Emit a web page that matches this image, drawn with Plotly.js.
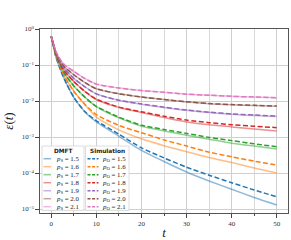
<!DOCTYPE html>
<html><head><meta charset="utf-8">
<script src="https://cdn.plot.ly/plotly-3.0.1.min.js"></script>
<style>html,body{margin:0;padding:0;background:#fff;}#chart{width:291px;height:240px;}</style>
</head><body><div id="chart"></div>
<script>
const t = [0,0.5,1,2,3,5,7.5,10,15,20,25,30,35,40,45,50];

// Simulation (dashed)
const simP15 = [0.617,0.324,0.174,0.0759,0.0380,0.0126,0.00501,0.00282,0.00120,0.000501,0.000263,0.000145,0.0000871,0.0000537,0.0000339,0.0000219];
const simP16 = [0.617,0.339,0.186,0.0871,0.0468,0.0186,0.00794,0.00417,0.00209,0.00132,0.000832,0.000562,0.000380,0.000282,0.000214,0.000166];
const simP17 = [0.617,0.347,0.200,0.0977,0.0562,0.0263,0.0126,0.00708,0.00355,0.00214,0.00162,0.00126,0.000977,0.000794,0.000646,0.000537];
const simP18 = [0.617,0.355,0.209,0.107,0.0661,0.0347,0.0182,0.0112,0.00676,0.00501,0.00380,0.00295,0.00251,0.00219,0.00200,0.00182];
const simP19 = [0.617,0.363,0.219,0.117,0.0759,0.0427,0.0245,0.0158,0.0105,0.00832,0.00676,0.00562,0.00490,0.00437,0.00407,0.00380];
const simP20 = [0.617,0.372,0.229,0.129,0.0871,0.0537,0.0324,0.0219,0.0158,0.0129,0.0110,0.00955,0.00851,0.00794,0.00759,0.00724];
const simP21 = [0.617,0.380,0.240,0.141,0.100,0.0661,0.0417,0.0295,0.0229,0.0195,0.0174,0.0155,0.0145,0.0135,0.0129,0.0123];

// DMFT (solid)
const dmP15 = [0.617,0.324,0.174,0.0759,0.0380,0.0126,0.00490,0.00263,0.00105,0.000427,0.000209,0.000107,0.0000603,0.0000355,0.0000209,0.0000129];
const dmP16 = [0.617,0.339,0.186,0.0871,0.0468,0.0186,0.00776,0.00355,0.00158,0.000891,0.000575,0.000389,0.000269,0.000195,0.000138,0.000100];
const dmP17 = [0.617,0.347,0.200,0.0977,0.0562,0.0263,0.0126,0.00700,0.00339,0.00200,0.00148,0.00112,0.000871,0.000676,0.000562,0.000468];
const dmP18 = [0.617,0.355,0.209,0.107,0.0661,0.0347,0.0182,0.0110,0.00661,0.00479,0.00347,0.00263,0.00219,0.00191,0.00166,0.00148];
const dmP19 = [0.617,0.363,0.219,0.117,0.0759,0.0427,0.0245,0.0158,0.0105,0.00813,0.00661,0.00550,0.00479,0.00427,0.00398,0.00372];
const dmP20 = [0.617,0.372,0.229,0.129,0.0871,0.0537,0.0324,0.0219,0.0158,0.0129,0.0110,0.00944,0.00841,0.00785,0.00750,0.00716];
const dmP21 = [0.617,0.380,0.240,0.141,0.100,0.0661,0.0417,0.0295,0.0229,0.0195,0.0174,0.0155,0.0145,0.0135,0.0129,0.0123];

const pValues = ['1.5','1.6','1.7','1.8','1.9','2.0','2.1'];
const colors = ['#1f77b4','#ff7f0e','#2ca02c','#d62728','#9467bd','#8c564b','#e377c2'];
const simSeries = [simP15,simP16,simP17,simP18,simP19,simP20,simP21];
const dmSeries = [dmP15,dmP16,dmP17,dmP18,dmP19,dmP20,dmP21];

const yTickVals = [1,0.1,0.01,0.001,0.0001,0.00001];
const yTickText = ['10<sup>0</sup>','10<sup>\u22121</sup>','10<sup>\u22122</sup>','10<sup>\u22123</sup>','10<sup>\u22124</sup>','10<sup>\u22125</sup>'];
const xTickVals = [0,10,20,30,40,50];

const traces = [];
dmSeries.forEach((ys,i)=>traces.push({x:t,y:ys,type:'scatter',mode:'lines',name:'p_S = '+pValues[i],
  line:{color:colors[i],width:1.5,shape:'spline',smoothing:0.6},opacity:0.5,showlegend:false,hoverinfo:'skip'}));
simSeries.forEach((ys,i)=>traces.push({x:t,y:ys,type:'scatter',mode:'lines',name:'p_O = '+pValues[i],
  line:{color:colors[i],width:1.5,dash:'5px,2.4px',shape:'spline',smoothing:0.6},showlegend:false,hoverinfo:'skip'}));

// plot area in pixels
const L=40, R=288, T=29, B=213;
const px = v => (v-L)/(R-L);
const py = v => (B-v)/(B-T);

const shapes = [];
const annotations = [];
const serif = 'Liberation Serif, DejaVu Serif, serif';

// legend boxes
const boxes = [
  {x0:42, x1:84, title:'DMFT', sub:'S', dash:'solid', op:0.5, lx0:43.5, lx1:51, tx:67},
  {x0:85.5, x1:129, title:'Simulation', sub:'O', dash:'3px,1.6px', op:1, lx0:87.5, lx1:98.5, tx:114}
];
boxes.forEach(b=>{
  shapes.push({type:'rect',xref:'paper',yref:'paper',x0:px(b.x0),x1:px(b.x1),y0:py(210.5),y1:py(146),
    line:{color:'#d6d6d6',width:0.8},fillcolor:'rgba(255,255,255,0.85)',layer:'above'});
  annotations.push({xref:'paper',yref:'paper',x:px((b.x0+b.x1)/2),y:py(151),text:'<b>'+b.title+'</b>',
    showarrow:false,font:{family:'DejaVu Sans, sans-serif',size:5.8,color:'#222'},xanchor:'center',yanchor:'middle'});
  pValues.forEach((p,i)=>{
    const yy = 158.7 + i*8;
    shapes.push({type:'line',xref:'paper',yref:'paper',x0:px(b.lx0),x1:px(b.lx1),y0:py(yy),y1:py(yy),
      line:{color:colors[i],width:1.5,dash:b.dash},opacity:b.op,layer:'above'});
    annotations.push({xref:'paper',yref:'paper',x:px(b.tx),y:py(yy),
      text:'<i>p</i><sub>'+b.sub+'</sub> = '+p,showarrow:false,
      font:{family:serif,size:6.8,color:'#222'},xanchor:'center',yanchor:'middle'});
  });
});

const layout = {
  width:291,height:240,
  margin:{l:L,r:291-R,t:T,b:240-B,pad:0},
  paper_bgcolor:'#fff',plot_bgcolor:'#fff',
  showlegend:false,
  xaxis:{range:[-2.5,52.5],tickvals:xTickVals,ticktext:xTickVals.map(String),ticks:'outside',ticklen:3.5,tickwidth:0.8,tickcolor:'#444',
    showline:true,mirror:true,linecolor:'#555',linewidth:1.2,showgrid:true,gridcolor:'#cfcfcf',gridwidth:0.8,zeroline:false,
    tickfont:{family:serif,size:7,color:'#333'},
    minor:{dtick:5,tick0:0,ticks:'outside',ticklen:2,tickcolor:'#444',showgrid:true,gridcolor:'#d8d8d8',gridwidth:0.8},
    title:{text:'<i>t</i>',font:{family:serif,size:13,color:'#222'},standoff:3}},
  yaxis:{type:'log',range:[-5.11,0],tickvals:yTickVals,ticktext:yTickText,ticks:'outside',ticklen:3.5,tickwidth:0.8,tickcolor:'#444',
    showline:true,mirror:true,linecolor:'#555',linewidth:1.2,showgrid:true,gridcolor:'#cfcfcf',gridwidth:0.8,zeroline:false,
    tickfont:{family:serif,size:7,color:'#333'},
    title:{text:'<i>\u03b5</i>(<i>t</i>)',font:{family:serif,size:13,color:'#222'},standoff:5}},
  shapes:shapes,annotations:annotations
};
Plotly.newPlot('chart',traces,layout,{displayModeBar:false});
</script></body></html>
